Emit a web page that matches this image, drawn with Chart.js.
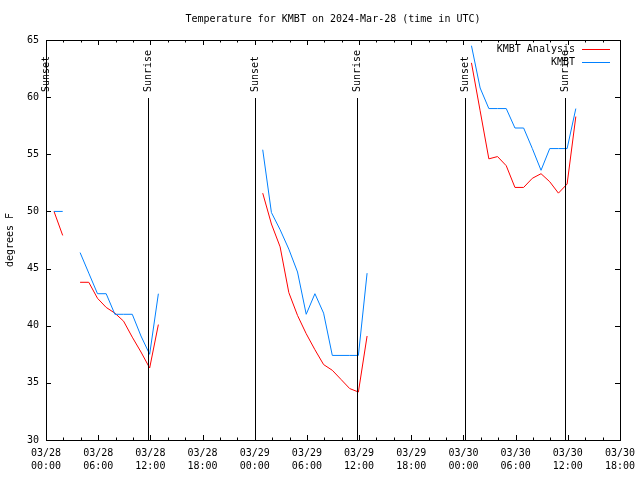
<!DOCTYPE html>
<html>
<head>
<meta charset="utf-8">
<title>Temperature for KMBT</title>
<script src="https://cdn.jsdelivr.net/npm/chart.js@4/dist/chart.umd.min.js"></script>
<style>
  html, body { margin: 0; padding: 0; background: #fff; }
  canvas { display: block; }
</style>
</head>
<body>
<canvas id="tempChart" width="640" height="480"></canvas>
<script>
// hours after 03/28 00:00 UTC, one reading per hour
const hours = [
   0.92,  1.92,  2.92,  3.92,  4.92,  5.92,  6.92,  7.92,  8.92,  9.92, 10.92, 11.92, 12.92,
  13.92, 14.92, 15.92, 16.92, 17.92, 18.92, 19.92, 20.92, 21.92, 22.92, 23.92,
  24.92, 25.92, 26.92, 27.92, 28.92, 29.92, 30.92, 31.92, 32.92, 33.92, 34.92, 35.92, 36.92,
  37.92, 38.92, 39.92, 40.92, 41.92, 42.92, 43.92, 44.92, 45.92, 46.92, 47.92,
  48.92, 49.92, 50.92, 51.92, 52.92, 53.92, 54.92, 55.92, 56.92, 57.92, 58.92, 59.92, 60.92
];

const analysisTemps = [
  50.0, 47.9, null, 43.8, 43.8, 42.4, 41.6, 41.1, 40.4, 39.0, 37.7, 36.3, 40.1,
  null, null, null, null, null, null, null, null, null, null, null,
  51.6, 48.9, 46.9, 42.9, 40.9, 39.3, 37.9, 36.6, 36.1, 35.3, 34.5, 34.2, 39.1,
  null, null, null, null, null, null, null, null, null, null, null,
  63.0, 58.8, 54.6, 54.8, 54.0, 52.1, 52.1, 52.9, 53.3, 52.6, 51.6, 52.4, 58.3
];

const stationTemps = [
  50.0, 50.0, null, 46.4, 44.6, 42.8, 42.8, 41.0, 41.0, 41.0, 39.1, 37.5, 42.8,
  null, null, null, null, null, null, null, null, null, null, null,
  55.4, 49.9, 48.4, 46.7, 44.7, 41.0, 42.8, 41.1, 37.4, 37.4, 37.4, 37.4, 44.6,
  null, null, null, null, null, null, null, null, null, null, null,
  64.5, 60.8, 59.0, 59.0, 59.0, 57.3, 57.3, 55.5, 53.6, 55.5, 55.5, 55.5, 59.0
];

const sunsetHours = [0.0, 24.07, 48.14];
const sunriseHours = [11.76, 35.79, 59.71];

const xTickLabels = [
  ['03/28', '00:00'], ['03/28', '06:00'], ['03/28', '12:00'], ['03/28', '18:00'],
  ['03/29', '00:00'], ['03/29', '06:00'], ['03/29', '12:00'], ['03/29', '18:00'],
  ['03/30', '00:00'], ['03/30', '06:00'], ['03/30', '12:00'], ['03/30', '18:00']
];

const FONT = 'DejaVu Sans Mono';

function points(temps) {
  return hours.map((h, i) => ({ x: h, y: temps[i] }));
}

// gnuplot-like frame: box border, inward ticks, sun lines, legend
const gnuFrame = {
  id: 'gnuFrame',
  afterDatasetsDraw(chart) {
    const { ctx, chartArea: a, scales: { x, y } } = chart;
    ctx.save();
    ctx.strokeStyle = '#000';
    ctx.lineWidth = 1;
    ctx.strokeRect(a.left + 0.5, a.top + 0.5, a.right - a.left, a.bottom - a.top);

    ctx.beginPath();
    for (let v = 30; v <= 65; v += 5) {
      const py = Math.round(y.getPixelForValue(v)) + 0.5;
      ctx.moveTo(a.left, py); ctx.lineTo(a.left + 5, py);
      ctx.moveTo(a.right, py); ctx.lineTo(a.right - 5, py);
    }
    for (let h = 0; h <= 66; h += 2) {
      const px = Math.round(x.getPixelForValue(h)) + 0.5;
      const len = h % 6 === 0 ? 5 : 2.5;
      ctx.moveTo(px, a.bottom); ctx.lineTo(px, a.bottom - len);
      ctx.moveTo(px, a.top); ctx.lineTo(px, a.top + len);
    }
    ctx.stroke();

    ctx.font = '10px "' + FONT + '"';
    ctx.fillStyle = '#000';
    const sunLine = (h, label) => {
      const px = Math.round(x.getPixelForValue(h)) + 0.5;
      ctx.beginPath();
      ctx.moveTo(px, 98); ctx.lineTo(px, a.bottom);
      ctx.stroke();
      ctx.save();
      ctx.translate(px, 92);
      ctx.rotate(-Math.PI / 2);
      ctx.textAlign = 'left';
      ctx.textBaseline = 'middle';
      ctx.fillText(label, 0, 0);
      ctx.restore();
    };
    sunsetHours.forEach(h => sunLine(h, 'Sunset'));
    sunriseHours.forEach(h => sunLine(h, 'Sunrise'));

    // legend
    ctx.textAlign = 'right';
    ctx.textBaseline = 'middle';
    chart.data.datasets.forEach(ds => {
      const ly = 49.5 + ds.legendRow * 13;
      ctx.fillStyle = '#000';
      ctx.fillText(ds.label, 575, ly);
      ctx.strokeStyle = ds.borderColor;
      ctx.beginPath();
      ctx.moveTo(582, ly); ctx.lineTo(610, ly);
      ctx.stroke();
    });
    ctx.restore();
  }
};

new Chart(document.getElementById('tempChart'), {
  type: 'line',
  data: {
    datasets: [{
      label: 'KMBT',
      data: points(stationTemps),
      borderColor: '#0080ff',
      borderWidth: 1,
      pointRadius: 0,
      tension: 0,
      spanGaps: false,
      legendRow: 1
    }, {
      label: 'KMBT Analysis',
      data: points(analysisTemps),
      borderColor: '#ff0000',
      borderWidth: 1,
      pointRadius: 0,
      tension: 0,
      spanGaps: false,
      legendRow: 0
    }]
  },
  options: {
    responsive: false,
    animation: false,
    layout: { padding: { left: 0, right: 20, top: 0, bottom: 0 } },
    plugins: {
      legend: { display: false },
      tooltip: { enabled: false },
      title: {
        display: true,
        text: 'Temperature for KMBT on 2024-Mar-28 (time in UTC)',
        color: '#000',
        fullSize: false,
        font: { family: FONT, size: 10, weight: 'normal' },
        padding: { top: 13, bottom: 15 }
      }
    },
    scales: {
      x: {
        type: 'linear',
        min: 0,
        max: 66,
        border: { display: false },
        grid: { display: false, drawTicks: false },
        ticks: {
          stepSize: 6,
          autoSkip: false,
          maxRotation: 0,
          padding: 7,
          color: '#000',
          font: { family: FONT, size: 10, lineHeight: 1.3 },
          callback: v => xTickLabels[Math.round(v / 6)]
        },
        afterFit: s => {
          s.height = 40;
          s.paddingLeft = 0;
          s.paddingRight = 0;
        }
      },
      y: {
        min: 30,
        max: 65,
        border: { display: false },
        grid: { display: false, drawTicks: false },
        ticks: {
          stepSize: 5,
          padding: 7,
          color: '#000',
          font: { family: FONT, size: 10 }
        },
        title: {
          display: true,
          text: 'degrees F',
          color: '#000',
          font: { family: FONT, size: 10 },
          padding: { top: 4, bottom: 0 }
        },
        afterFit: s => {
          s.width = 46;
          s.paddingTop = 0;
          s.paddingBottom = 0;
        }
      }
    }
  },
  plugins: [gnuFrame]
});
</script>
</body>
</html>
